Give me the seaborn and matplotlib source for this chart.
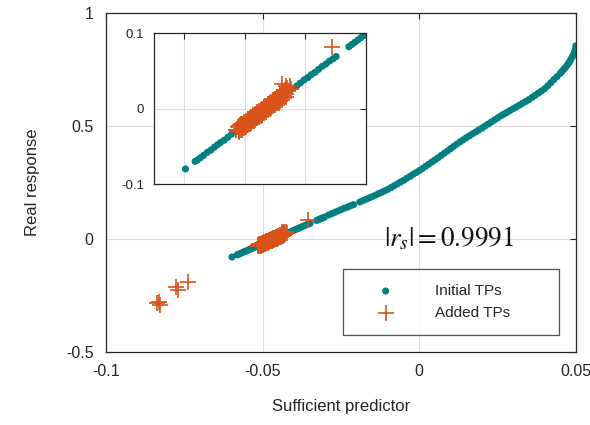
import pandas as pd
import matplotlib
matplotlib.use("Agg")
import matplotlib.pyplot as plt
import seaborn as sns

# Initial TPs
init_x = [-0.0598, -0.0582, -0.0578, -0.0573, -0.0568, -0.0562, -0.0556, -0.0550, -0.0545, -0.0540,
          -0.0534, -0.0528, -0.0522, -0.0515, -0.0508, -0.0500, -0.0492, -0.0485, -0.0478, -0.0470,
          -0.0462, -0.0455, -0.0447, -0.0440, -0.0432, -0.0426, -0.0420, -0.0414, -0.0408, -0.0402,
          -0.0396, -0.0390, -0.0384, -0.0378, -0.0372, -0.0366, -0.0360, -0.0354, -0.0349,
          -0.0328, -0.0323, -0.0318, -0.0313, -0.0308, -0.0303,
          -0.029, -0.028, -0.027, -0.026, -0.025, -0.024, -0.023, -0.022, -0.021,
          -0.019, -0.018, -0.017, -0.016, -0.015, -0.014, -0.013, -0.012, -0.011, -0.010,
          -0.009, -0.008, -0.007, -0.006, -0.005, -0.004, -0.003, -0.002, -0.001, 0.000,
          0.001, 0.002, 0.003, 0.004, 0.005, 0.006, 0.007, 0.008, 0.009, 0.010,
          0.011, 0.012, 0.013, 0.014, 0.015, 0.016, 0.017, 0.018, 0.019, 0.020,
          0.021, 0.022, 0.023, 0.024, 0.025, 0.026, 0.027, 0.028, 0.029, 0.030,
          0.031, 0.032, 0.033, 0.034, 0.035, 0.036, 0.037, 0.038, 0.039, 0.040,
          0.041, 0.042, 0.043, 0.044, 0.045, 0.0455, 0.046, 0.0465, 0.047, 0.0475,
          0.048, 0.0484, 0.0488, 0.0491, 0.0494, 0.0497, 0.0499, 0.0500]
init_y = [-0.080, -0.070, -0.068, -0.065, -0.062, -0.058, -0.055, -0.051, -0.048, -0.045,
          -0.042, -0.038, -0.034, -0.030, -0.026, -0.021, -0.016, -0.012, -0.008, -0.003,
          0.002, 0.006, 0.011, 0.015, 0.020, 0.023, 0.027, 0.030, 0.034, 0.038,
          0.041, 0.045, 0.048, 0.052, 0.056, 0.059, 0.063, 0.066, 0.069,
          0.082, 0.085, 0.088, 0.091, 0.094, 0.097,
          0.106, 0.112, 0.118, 0.124, 0.130, 0.136, 0.141, 0.147, 0.152,
          0.164, 0.170, 0.176, 0.182, 0.188, 0.194, 0.201, 0.207, 0.214, 0.220,
          0.228, 0.236, 0.244, 0.252, 0.260, 0.269, 0.277, 0.286, 0.294, 0.303,
          0.312, 0.322, 0.331, 0.341, 0.350, 0.360, 0.370, 0.380, 0.390, 0.400,
          0.410, 0.420, 0.430, 0.439, 0.448, 0.457, 0.466, 0.474, 0.483, 0.491,
          0.500, 0.509, 0.518, 0.527, 0.536, 0.545, 0.553, 0.561, 0.569, 0.577,
          0.585, 0.593, 0.601, 0.609, 0.617, 0.627, 0.636, 0.646, 0.655, 0.665,
          0.678, 0.692, 0.706, 0.719, 0.733, 0.741, 0.749, 0.757, 0.765, 0.775,
          0.785, 0.795, 0.805, 0.813, 0.822, 0.832, 0.842, 0.855]

# Added TPs: dense band near -0.05, two isolated points, far outliers
added_x = [-0.0515, -0.0512, -0.0510, -0.0508, -0.0505, -0.0503, -0.0500, -0.0498, -0.0496, -0.0494,
           -0.0492, -0.0490, -0.0488, -0.0486, -0.0484, -0.0482, -0.0480, -0.0478, -0.0476, -0.0474,
           -0.0472, -0.0470, -0.0468, -0.0466, -0.0464, -0.0462, -0.0460, -0.0458, -0.0456, -0.0454,
           -0.0452, -0.0450, -0.0448, -0.0446, -0.0444, -0.0442, -0.0440, -0.0438, -0.0436, -0.0434,
           -0.0432, -0.0430, -0.0428, -0.0426, -0.0424, -0.0438, -0.0432,
           -0.0510, -0.0507, -0.0504, -0.0501, -0.0498, -0.0495, -0.0492, -0.0489, -0.0486, -0.0483,
           -0.0480, -0.0477, -0.0474, -0.0471, -0.0468, -0.0465, -0.0462, -0.0459, -0.0456, -0.0453,
           -0.0450, -0.0447, -0.0444, -0.0441, -0.0438, -0.0435, -0.0432,
           -0.0510, -0.0507, -0.0504, -0.0501, -0.0498, -0.0495, -0.0492, -0.0489, -0.0486, -0.0483,
           -0.0480, -0.0477, -0.0474, -0.0471, -0.0468, -0.0465, -0.0462, -0.0459, -0.0456, -0.0453,
           -0.0450, -0.0447, -0.0444, -0.0441, -0.0438, -0.0435, -0.0432,
           -0.0514, -0.0356,
           -0.0838, -0.0832, -0.0828, -0.0776, -0.0771, -0.0738]
added_y = [-0.029, -0.024, -0.030, -0.022, -0.027, -0.020, -0.025, -0.018, -0.022, -0.014,
           -0.020, -0.013, -0.017, -0.010, -0.016, -0.008, -0.013, -0.005, -0.010, -0.003,
           -0.008, 0.000, -0.005, 0.003, -0.002, 0.006, 0.001, 0.008, 0.003, 0.011,
           0.006, 0.013, 0.009, 0.016, 0.011, 0.019, 0.014, 0.022, 0.018, 0.025,
           0.020, 0.027, 0.023, 0.030, 0.026, 0.032, 0.030,
           -0.023, -0.021, -0.020, -0.018, -0.016, -0.014, -0.012, -0.011, -0.009, -0.007,
           -0.005, -0.003, -0.002, 0.000, 0.002, 0.004, 0.006, 0.007, 0.009, 0.011,
           0.013, 0.015, 0.016, 0.018, 0.020, 0.022, 0.024,
           -0.031, -0.029, -0.028, -0.026, -0.024, -0.022, -0.020, -0.019, -0.017, -0.015,
           -0.013, -0.011, -0.010, -0.008, -0.006, -0.004, -0.002, -0.001, 0.001, 0.003,
           0.005, 0.007, 0.008, 0.010, 0.012, 0.014, 0.016,
           -0.028, 0.082,
           -0.285, -0.278, -0.292, -0.212, -0.225, -0.190]

teal = '#008080'
orange = '#D95319'

sns.set_style('white')
plt.rcParams['font.family'] = ['Liberation Sans', 'DejaVu Sans']
plt.rcParams['axes.unicode_minus'] = False

init_df = pd.DataFrame({'x': init_x, 'y': init_y})
added_df = pd.DataFrame({'x': added_x, 'y': added_y})

fig = plt.figure(figsize=(5.9, 4.25), dpi=100)
ax = fig.add_axes([0.180, 0.172, 0.796, 0.797])
axin = fig.add_axes([0.261, 0.567, 0.359, 0.355])


def style_axes(a, fs, pad):
    a.grid(True, color='#dedede', linewidth=0.8)
    a.set_axisbelow(True)
    for sp in a.spines.values():
        sp.set_color('#262626')
        sp.set_linewidth(0.9)
    a.tick_params(direction='in', top=True, right=True, length=4, width=0.8,
                  colors='#262626', labelsize=fs, labelcolor='#262626', pad=pad)


for a in (ax, axin):
    sns.scatterplot(data=init_df, x='x', y='y', ax=a, color=teal, s=26,
                    edgecolor='none', label='Initial TPs', legend=False)
    sns.scatterplot(data=added_df, x='x', y='y', ax=a, color=orange, marker='+',
                    s=125, linewidth=1.2, label='Added TPs', legend=False)

ax.set_xlim(-0.1, 0.05)
ax.set_ylim(-0.5, 1.0)
ax.set_xticks([-0.1, -0.05, 0, 0.05])
ax.set_xticklabels(['-0.1', '-0.05', '0', '0.05'])
ax.set_yticks([-0.5, 0, 0.5, 1])
ax.set_yticklabels(['-0.5', '0', '0.5', '1'])
style_axes(ax, 11.5, 9)
ax.set_xlabel('Sufficient predictor', fontsize=12, color='#262626', labelpad=14)
ax.set_ylabel('Real response', fontsize=12, color='#262626', labelpad=19)

axin.set_xlim(-0.065, -0.03)
axin.set_ylim(-0.1, 0.1)
axin.set_xticks([-0.06, -0.05, -0.04])
axin.set_xticklabels([])
axin.set_yticks([-0.1, 0, 0.1])
axin.set_yticklabels(['-0.1', '0', '0.1'])
axin.set_xlabel('')
axin.set_ylabel('')
style_axes(axin, 9.5, 7)

ax.text(0.0096, 0.0, r'$|r_s| = 0.9991$', fontsize=19.5, ha='center', va='center',
        math_fontfamily='stix', color='#111111')

leg = ax.legend(loc='lower left', bbox_to_anchor=(0.504, 0.05, 0.46, 0.204), mode='expand',
                fontsize=11, frameon=True, fancybox=False, edgecolor='#262626',
                handlelength=3.6, handletextpad=1.4, borderpad=1.0, labelspacing=0.5,
                borderaxespad=0)
leg.get_frame().set_linewidth(0.9)

fig.savefig('out.png', dpi=100)
